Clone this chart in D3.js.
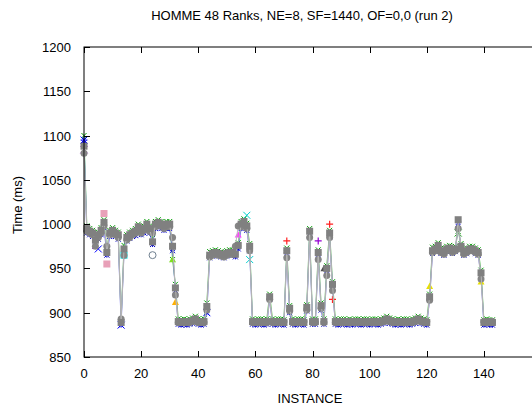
<!DOCTYPE html>
<html><head><meta charset="utf-8">
<script src="https://cdn.jsdelivr.net/npm/d3@7"></script>
<style>body{margin:0;background:#fff}svg{display:block}text{font-family:"Liberation Sans",Arial,sans-serif}</style>
</head><body><svg id="c" width="532" height="406"></svg>
<script>
const title = "HOMME 48 Ranks, NE=8, SF=1440, OF=0,0 (run 2)";
const xLabel = "INSTANCE";
const yLabel = "Time (ms)";
const xTicks = [0,20,40,60,80,100,120,140,160];
const xTickLabels = ["0","20","40","60","80","100","120","140",""];
const yTicks = [850,900,950,1000,1050,1100,1150,1200];

// gray rank (dominant, drawn last)
const grayA = [
1088,995,992,990,982,988,993,1002,968,990,
993,990,988,889,972,985,988,990,992,997,
993,995,1000,995,980,1000,1002,1000,998,1000,
1000,975,928,890,889,890,889,890,891,893,
890,889,890,907,965,967,968,967,966,965,
967,968,968,966,976,1000,1003,998,975,890,
889,890,890,889,890,918,890,889,890,890,
889,970,905,890,889,890,890,889,906,992,
890,890,968,908,890,950,990,932,890,889,
890,890,889,890,889,890,890,889,890,890,
889,890,890,889,890,891,893,891,890,889,
890,889,890,890,889,890,891,893,891,890,
889,918,970,972,976,970,968,972,973,970,
972,1005,975,968,970,972,972,970,968,945,
889,890,889,889];
// second gray rank
const grayB = [
1080,992,990,988,975,985,990,998,975,988,
990,988,985,893,965,982,985,988,990,993,
990,993,997,992,990,997,999,998,995,997,
997,985,920,889,890,889,890,889,890,891,
889,890,889,903,963,965,966,965,964,963,
965,966,966,975,998,997,1000,995,970,889,
890,889,889,890,889,915,889,890,889,889,
890,962,902,889,890,889,889,890,903,985,
889,889,960,905,889,942,985,925,889,890,
889,889,890,889,890,889,889,890,889,889,
890,889,889,890,889,890,891,890,889,890,
889,890,889,889,890,889,890,891,890,889,
890,914,968,970,973,968,966,970,971,968,
970,995,972,966,968,970,970,968,966,938,
890,889,890,890];
// green rank
const greenRank = [
1100,998,995,993,986,991,996,1005,972,993,
996,993,991,892,976,988,991,993,995,1000,
996,998,1003,998,984,1003,1005,1003,1001,1003,
1003,960,932,893,892,893,892,893,894,896,
893,892,893,911,969,970,971,970,969,968,
970,971,971,969,979,1003,1006,1001,978,893,
892,893,893,892,893,921,893,892,893,893,
892,973,908,893,892,893,893,892,909,995,
893,893,971,911,893,953,993,935,893,892,
893,893,892,893,892,893,893,892,893,893,
892,893,893,892,893,894,896,894,893,892,
893,892,893,893,892,893,894,896,894,893,
892,921,974,975,979,973,971,975,976,973,
975,992,978,971,973,975,975,973,971,948,
892,893,892,892];
// blue rank
const blueRank = [
1092,990,988,986,975,983,988,996,965,986,
988,986,983,886,968,981,984,986,987,992,
988,990,995,990,977,995,997,995,993,995,
995,970,925,887,886,887,886,887,888,890,
887,886,887,900,962,964,965,964,963,962,
964,965,965,963,972,995,998,993,970,887,
886,887,887,886,887,915,887,886,887,887,
886,965,900,887,886,887,887,886,902,987,
887,887,963,903,887,945,985,928,887,886,
887,887,886,887,886,887,887,886,887,887,
886,887,887,886,887,888,890,888,887,886,
887,886,887,887,886,887,888,890,888,887,
886,915,967,969,973,967,965,969,970,967,
969,1000,972,965,967,969,969,967,965,942,
886,887,886,886];
// isolated points of other ranks visible around the gray band
const otherInstances = [0,0,4,5,7,8,13,14,24,31,32,43,54,57,58,71,82,84,86,87,121,131,139];
const otherValues    = [1095,1084,975,972,1012,955,886,965,965,960,912,900,988,1010,960,981,981,950,1000,915,930,990,935];
const otherColors    = ["#0000ff","#9400d3","#9400d3","#0000ff","#e8a0b8","#e8a0b8","#0000ff","#00e0e0","#708090","#80e020","#ffb000","#0000ff","#ff40ff","#00d0d0","#00d0d0","#ff2020","#9400d3","#505050","#ff2020","#ff2020","#e8e000","#00a000","#e8e000"];
const otherShapes    = ["star","x","tri","x","sq","sq","x","sq","circ","tri","tri","x","tri","x","x","plus","plus","tri","plus","plus","tri","x","tri"];

const svg = d3.select("#c");
const L = 84, T = 47, B = 357, R = 541;
const x = d3.scaleLinear().domain([0,160]).range([L,R]);
const y = d3.scaleLinear().domain([850,1200]).range([B,T]);

const plot = svg.append("g");
const line = d3.line().x((d,i)=>x(i)).y(d=>y(d));

function drawSeries(vals, lineColor, lineOp, marker, color, size){
  plot.append("path").attr("d", line(vals)).attr("fill","none")
    .attr("stroke", lineColor).attr("stroke-width",1).attr("opacity", lineOp);
  vals.forEach((v,i)=>drawMarker(x(i), y(v), marker, color, size));
}
function drawMarker(cx, cy, shape, color, s){
  const h = s/2;
  if (shape==="sq") plot.append("rect").attr("x",cx-h).attr("y",cy-h).attr("width",s).attr("height",s).attr("fill",color);
  else if (shape==="circ") plot.append("circle").attr("cx",cx).attr("cy",cy).attr("r",h).attr("fill",color);
  else if (shape==="ocirc") plot.append("circle").attr("cx",cx).attr("cy",cy).attr("r",h).attr("fill","none").attr("stroke",color);
  else if (shape==="tri") plot.append("path").attr("d",`M${cx},${cy-h}L${cx+h},${cy+h*0.8}L${cx-h},${cy+h*0.8}Z`).attr("fill",color);
  else if (shape==="x") plot.append("path").attr("d",`M${cx-h},${cy-h}L${cx+h},${cy+h}M${cx-h},${cy+h}L${cx+h},${cy-h}`).attr("stroke",color).attr("stroke-width",1);
  else if (shape==="plus") plot.append("path").attr("d",`M${cx-h},${cy}L${cx+h},${cy}M${cx},${cy-h}L${cx},${cy+h}`).attr("stroke",color).attr("stroke-width",1.2);
  else if (shape==="star") plot.append("path").attr("d",`M${cx-h},${cy-h}L${cx+h},${cy+h}M${cx-h},${cy+h}L${cx+h},${cy-h}M${cx-h},${cy}L${cx+h},${cy}M${cx},${cy-h}L${cx},${cy+h}`).attr("stroke",color).attr("stroke-width",1);
}

drawSeries(greenRank, "#00b000", 0.6, "x", "#00a000", 5);
drawSeries(blueRank, "#0000ff", 0.6, "star", "#0000cc", 5);
otherInstances.forEach((k,j)=>drawMarker(x(k), y(otherValues[j]), otherShapes[j]==="circ"?"ocirc":otherShapes[j], otherColors[j], 7));
drawSeries(grayB, "#bcbcbc", 1, "circ", "#858585", 7);
drawSeries(grayA, "#b4b4b4", 1, "sq", "#808080", 7);

// frame
svg.append("rect").attr("x",L).attr("y",T).attr("width",R-L).attr("height",B-T)
  .attr("fill","none").attr("stroke","#000").attr("stroke-width",1);
// ticks (inward, mirrored)
const tl = 6;
xTicks.forEach((t,k)=>{
  const px = Math.round(x(t))+0.5;
  svg.append("line").attr("x1",px).attr("x2",px).attr("y1",B).attr("y2",B-tl).attr("stroke","#000");
  svg.append("line").attr("x1",px).attr("x2",px).attr("y1",T).attr("y2",T+tl).attr("stroke","#000");
  if (xTickLabels[k]) svg.append("text").attr("x",x(t)).attr("y",B+21).attr("text-anchor","middle").attr("font-size",13).text(xTickLabels[k]);
});
yTicks.forEach(t=>{
  const py = Math.round(y(t))+0.5;
  svg.append("line").attr("x1",L).attr("x2",L+tl).attr("y1",py).attr("y2",py).attr("stroke","#000");
  svg.append("line").attr("x1",R).attr("x2",R-tl).attr("y1",py).attr("y2",py).attr("stroke","#000");
  svg.append("text").attr("x",71).attr("y",y(t)+5).attr("text-anchor","end").attr("font-size",13).text(t);
});
svg.append("text").attr("x",302).attr("y",20).attr("text-anchor","middle").attr("font-size",13).text(title);
svg.append("text").attr("x",310).attr("y",403).attr("text-anchor","middle").attr("font-size",13).text(xLabel);
svg.append("text").attr("transform","translate(22,205) rotate(-90)").attr("text-anchor","middle").attr("font-size",13).text(yLabel);
</script></body></html>
